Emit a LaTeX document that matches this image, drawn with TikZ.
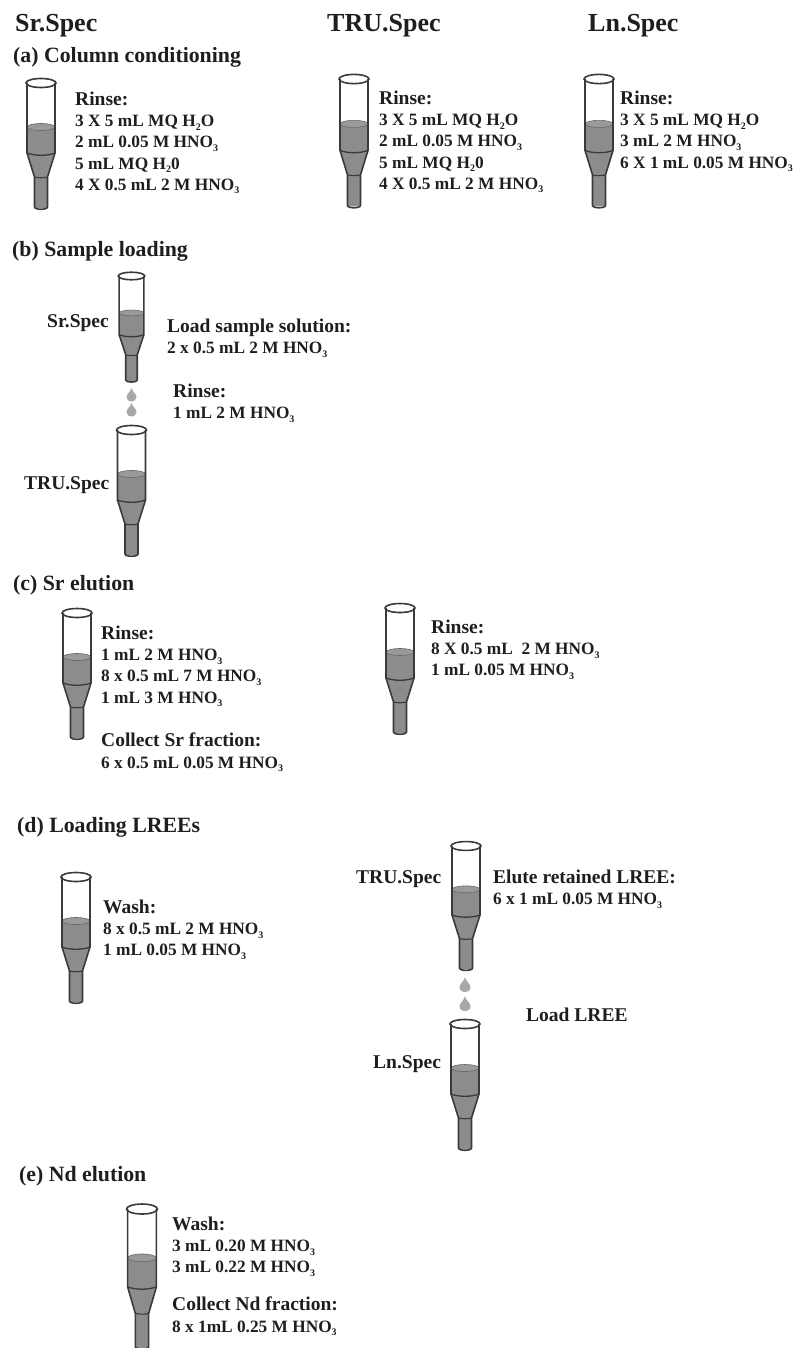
\documentclass[tikz,border=0pt]{standalone}
\usepackage{fontspec}
\setmainfont{Liberation Serif}
\definecolor{ink}{HTML}{1E1E1E}
\definecolor{wall}{HTML}{3A3A3A}
\definecolor{gel}{HTML}{8C8C8C}
\definecolor{geltop}{HTML}{9A9A9A}
\definecolor{drop}{HTML}{A8A8A8}
\tikzset{
  x=1pt,y=-1pt,
  title/.style={anchor=base west,inner sep=0pt,text=ink,font=\fontsize{26}{28}\selectfont\bfseries},
  stage/.style={anchor=base west,inner sep=0pt,text=ink,font=\fontsize{21.8}{24}\selectfont\bfseries},
  notes/.style={anchor=north west,inner sep=0pt,text=ink,align=left,font=\fontsize{17.3}{21.1}\selectfont\bfseries},
  side/.style={anchor=base west,inner sep=0pt,text=ink,font=\fontsize{19.5}{22}\selectfont\bfseries},
  colpic/.pic={
    \fill[gel] (-14,44) -- (14,44) -- (14,70) -- (6.5,94) -- (6.5,125) -- (-6.5,125) -- (-6.5,94) -- (-14,70) -- cycle;
    \fill[geltop,draw=gel!75!black,line width=.6pt] (0,44) ellipse[x radius=14,y radius=3.5];
    \draw[wall,line width=1.6pt,line join=round]
      (-14,0) -- (-14,70) -- (-6.5,94) -- (-6.5,124) .. controls (-6.5,127) and (6.5,127) .. (6.5,124) -- (6.5,94) -- (14,70) -- (14,0);
    \draw[wall,line width=1.6pt] (0,0) ellipse[x radius=15,y radius=4.5];
    \draw[wall,line width=1.3pt] (-14,70) .. controls (-7,73) and (7,73) .. (14,70);
    \draw[wall,line width=1.1pt] (-6.5,94) .. controls (-3,95) and (3,95) .. (6.5,94);
  },
  droppic/.pic={
    \fill[drop] (0,-7) .. controls (1,-3) and (5,-1) .. (5,2) .. controls (5,8) and (-5,8) .. (-5,2) .. controls (-5,-1) and (-1,-3) .. (0,-7) -- cycle;
  }
}
\newcommand{\lowsub}[1]{\raisebox{-3.5pt}{\fontsize{10}{10}\selectfont #1}}
\newcommand{\hno}{HNO\lowsub{3}}
\newcommand{\water}{H\lowsub{2}O}
\newcommand{\hd}[1]{{\fontsize{19.5}{21.1}\selectfont\rule{0pt}{13pt}#1}}
\begin{document}
\begin{tikzpicture}
\useasboundingbox (0,0) rectangle (796,1348);
\node[title] (t1) at (15,32) {Sr.Spec};
\node[title] (t2) at (327,32) {TRU.Spec};
\node[title] (t3) at (588,32) {Ln.Spec};
\node[stage] (sa) at (13,63) {(a) Column conditioning};
\node[stage] (sb) at (12,257) {(b) Sample loading};
\node[stage] (sc) at (13,590) {(c) Sr elution};
\node[stage] (sd) at (17,832) {(d) Loading LREEs};
\node[stage] (se) at (19,1181) {(e) Nd elution};

\pic at (41,83) {colpic};
\pic[yscale=1.02] at (354,79) {colpic};
\pic[yscale=1.02] at (599,79) {colpic};
\pic[xscale=.88,yscale=.84] at (131.5,276) {colpic};
\pic at (131.5,430) {colpic};
\pic at (77,613) {colpic};
\pic at (400,608) {colpic};
\pic at (76,877) {colpic};
\pic[yscale=.985] at (466,846) {colpic};
\pic at (465,1024) {colpic};
\pic[xscale=1.03,yscale=1.11] at (142,1209) {colpic};
\pic at (131.5,395) {droppic};
\pic at (131.5,410) {droppic};
\pic[scale=1.1] at (465,985) {droppic};
\pic[scale=1.1] at (465,1004) {droppic};

\node[notes] (n1) at (75,92) {\hd{Rinse:}\\3 X 5 mL MQ \water\\2 mL 0.05 M \hno\\5 mL MQ H\lowsub{2}0\\4 X 0.5 mL 2 M \hno};
\node[notes] (n2) at (379,91) {\hd{Rinse:}\\3 X 5 mL MQ \water\\2 mL 0.05 M \hno\\5 mL MQ H\lowsub{2}0\\4 X 0.5 mL 2 M \hno};
\node[notes] (n3) at (620,91) {\hd{Rinse:}\\3 X 5 mL MQ \water\\3 mL 2 M \hno\\6 X 1 mL 0.05 M \hno};
\node[notes] (n4) at (167,319) {\hd{Load sample solution:}\\2 x 0.5 mL 2 M \hno};
\node[notes] (n5) at (173,384) {\hd{Rinse:}\\1 mL 2 M \hno};
\node[notes] (n6) at (101,626) {\hd{Rinse:}\\1 mL 2 M \hno\\8 x 0.5 mL 7 M \hno\\1 mL 3 M \hno};
\node[notes] (n7) at (101,733) {\hd{Collect Sr fraction:}\\6 x 0.5 mL 0.05 M \hno};
\node[notes] (n8) at (431,620) {\hd{Rinse:}\\8 X 0.5 mL~~2 M \hno\\1 mL 0.05 M \hno};
\node[notes] (n9) at (103,900) {\hd{Wash:}\\8 x 0.5 mL 2 M \hno\\1 mL 0.05 M \hno};
\node[notes] (n10) at (493,870) {\hd{Elute retained LREE:}\\6 x 1 mL 0.05 M \hno};
\node[notes] (n11) at (526,1008) {\hd{Load LREE}};
\node[notes] (n12) at (172,1217) {\hd{Wash:}\\3 mL 0.20 M \hno\\3 mL 0.22 M \hno};
\node[notes] (n13) at (172,1297) {\hd{Collect Nd fraction:}\\8 x 1mL 0.25 M \hno};

\node[side] (l1) at (47,327) {Sr.Spec};
\node[side] (l2) at (24,489) {TRU.Spec};
\node[side] (l3) at (356,883) {TRU.Spec};
\node[side] (l4) at (373,1068) {Ln.Spec};
\end{tikzpicture}
\end{document}
